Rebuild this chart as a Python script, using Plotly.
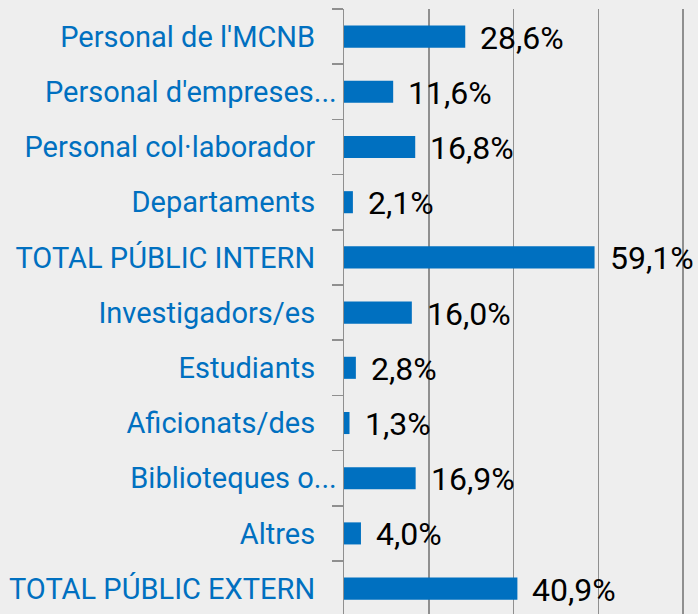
import plotly.graph_objects as go

categories = [
    "Personal de l'MCNB",
    "Personal d'empreses...",
    "Personal col·laborador",
    "Departaments",
    "TOTAL PÚBLIC INTERN",
    "Investigadors/es",
    "Estudiants",
    "Aficionats/des",
    "Biblioteques o...",
    "Altres",
    "TOTAL PÚBLIC EXTERN",
]
values = [28.6, 11.6, 16.8, 2.1, 59.1, 16.0, 2.8, 1.3, 16.9, 4.0, 40.9]

BLUE = "#0070C0"
GRID = "#8f8f8f"
BG = "#eeeeee"
FONT = "Roboto"

positions = list(range(len(categories)))
# full labels get padding like the original, truncated ones sit close to the axis
display = [c if c.endswith("...") else c + "\u00a0\u00a0\u00a0" for c in categories]

fig = go.Figure()
fig.add_trace(go.Bar(
    x=values, y=positions, orientation="h",
    marker=dict(color=BLUE, line=dict(width=0)),
    width=0.4, hoverinfo="skip",
))
# invisible trace to bind the boundary-tick axis
fig.add_trace(go.Scatter(x=[values[0]], y=[positions[0]], yaxis="y2",
                         mode="markers", marker=dict(opacity=0), hoverinfo="skip",
                         showlegend=False))

for v, p in zip(values, positions):
    fig.add_annotation(x=v, y=p, text=f"{v:.1f}%".replace(".", ","),
                       xanchor="left", yanchor="middle", xshift=13, yshift=-1,
                       showarrow=False,
                       font=dict(family=FONT, size=32, color="#000000"))

yrange = [10.46, -0.5]
fig.update_layout(
    width=698, height=614,
    margin=dict(l=344, r=0, t=9, b=0, pad=0),
    paper_bgcolor=BG, plot_bgcolor=BG,
    showlegend=False,
    xaxis=dict(range=[0, 83.5], tickvals=[0, 20, 40, 60, 80], showticklabels=False,
               showgrid=True, gridcolor=GRID, gridwidth=1.5, zeroline=False,
               showline=False, ticks=""),
    yaxis=dict(range=yrange, tickvals=positions, ticktext=display,
               ticks="", showgrid=False, zeroline=False,
               showline=True, linecolor=GRID, linewidth=1.5,
               tickfont=dict(family=FONT, size=29, color=BLUE),
               ticklabelstandoff=0),
    yaxis2=dict(range=yrange, overlaying="y", side="left",
                tickvals=[p - 0.5 for p in positions] + [positions[-1] + 0.5],
                showticklabels=False, ticks="outside", ticklen=11, tickwidth=1.5,
                tickcolor=GRID, showgrid=False, zeroline=False, showline=False),
)

fig.write_html("out.html",
               config={"displayModeBar": False, "staticPlot": True},
               post_script="document.body.style.margin='0';"
                           "document.body.style.background='" + BG + "';")
